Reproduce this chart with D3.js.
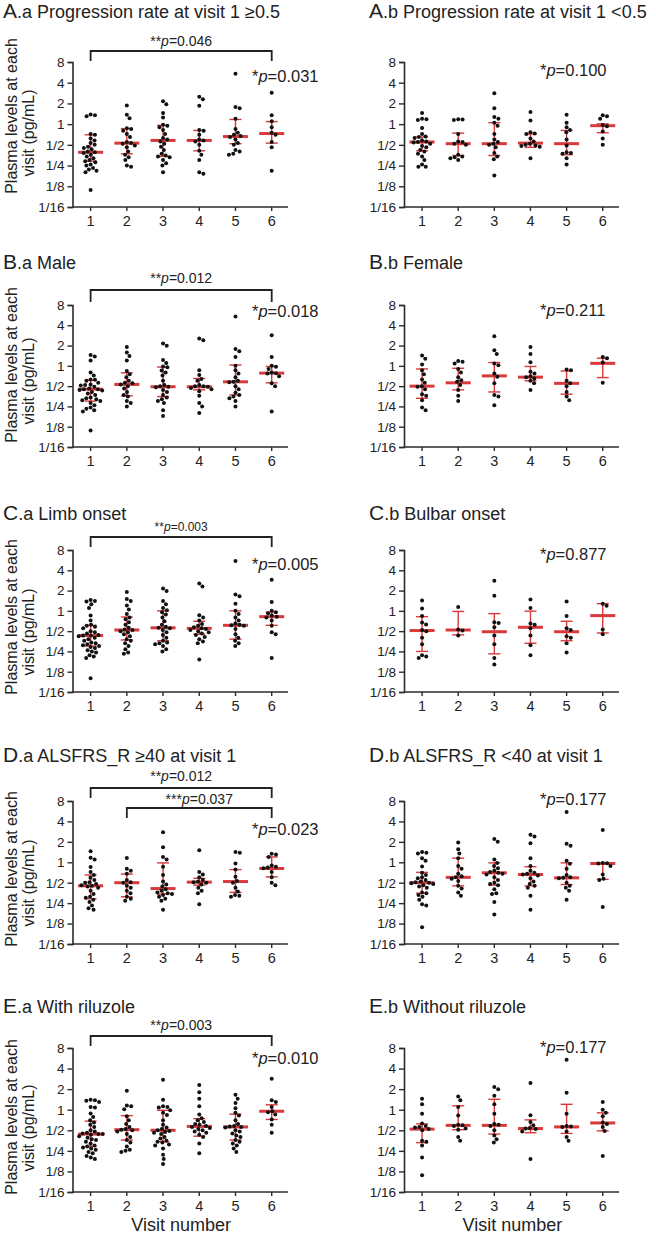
<!DOCTYPE html>
<html><head><meta charset="utf-8">
<script src="https://cdn.jsdelivr.net/npm/d3@7"></script>
<style>body{margin:0;background:#fff}svg{display:block;font-family:"Liberation Sans",Arial,sans-serif}</style>
</head><body><svg id="chart" width="656" height="1234"></svg>
<script>
// ---------------- DATA ----------------
const visits = [1, 2, 3, 4, 5, 6];
const yTickValues = [1/16, 1/8, 1/4, 1/2, 1, 2, 4, 8];
const yTickLabels = ["1/16", "1/8", "1/4", "1/2", "1", "2", "4", "8"];
const yAxisLabel = ["Plasma levels at each", "visit (pg/mL)"];
const xAxisLabel = "Visit number";

const panelLetters = ["A", "A", "B", "B", "C", "C", "D", "D", "E", "E"];
const panelTitles = [".a Progression rate at visit 1 \u22650.5", ".b Progression rate at visit 1 <0.5",
  ".a Male", ".b Female", ".a Limb onset", ".b Bulbar onset",
  ".a ALSFRS_R \u226540 at visit 1", ".b ALSFRS_R <40 at visit 1",
  ".a With riluzole", ".b Without riluzole"];
const trendP = ["0.031", "0.100", "0.018", "0.211", "0.005", "0.877", "0.023", "0.177", "0.010", "0.177"];

// pairwise comparisons (from visit, to visit, label)
const Aa_pairs = [{from: 1, to: 6, stars: "**", p: "0.046"}];
const Ba_pairs = [{from: 1, to: 6, stars: "**", p: "0.012"}];
const Ca_pairs = [{from: 1, to: 6, stars: "**", p: "0.003"}];
const Da_pairs = [{from: 1, to: 6, stars: "**", p: "0.012"}, {from: 2, to: 6, stars: "***", p: "0.037"}];
const Ea_pairs = [{from: 1, to: 6, stars: "**", p: "0.003"}];

// individual values (pg/mL) per visit
const Aa_values = [
  [1.38,1.35,1.3,0.72,0.7,0.62,0.58,0.53,0.5,0.47,0.45,0.43,0.40,0.39,0.38,0.36,0.34,0.32,0.30,0.29,0.28,0.26,0.25,0.23,0.22,0.21,0.20,0.11],
  [1.87,1.37,1.22,0.87,0.85,0.8,0.72,0.65,0.55,0.53,0.52,0.49,0.46,0.4,0.36,0.33,0.3,0.25,0.24],
  [2.15,1.95,1.45,1.25,0.98,0.95,0.9,0.82,0.72,0.63,0.6,0.56,0.52,0.47,0.42,0.37,0.35,0.34,0.33,0.3,0.27,0.25,0.2],
  [2.5,2.3,1.85,0.82,0.8,0.7,0.6,0.58,0.56,0.5,0.41,0.36,0.3,0.2,0.19],
  [5.4,1.78,1.7,1.2,0.85,0.75,0.7,0.67,0.65,0.6,0.53,0.5,0.42,0.4,0.37,0.36],
  [2.85,1.35,1.1,0.9,0.75,0.7,0.55,0.46,0.21]];
const Aa_median = [0.39, 0.53, 0.58, 0.58, 0.66, 0.73];
const Aa_q1 = [0.29, 0.37, 0.34, 0.41, 0.52, 0.53];
const Aa_q3 = [0.70, 0.86, 0.96, 0.81, 1.17, 1.09];

const Ab_values = [
  [1.45,1.2,1.18,1.15,0.88,0.72,0.66,0.65,0.63,0.58,0.56,0.55,0.54,0.52,0.48,0.46,0.42,0.4,0.37,0.34,0.3,0.26,0.24,0.24],
  [1.18,1.17,1.15,0.72,0.56,0.55,0.52,0.5,0.36,0.34,0.33,0.32,0.3],
  [2.8,1.7,1.27,1.2,1.05,0.95,0.72,0.6,0.55,0.52,0.5,0.46,0.38,0.34,0.31,0.18],
  [1.5,1.13,0.76,0.73,0.72,0.62,0.56,0.52,0.5,0.49,0.48,0.47,0.32],
  [1.37,1.05,0.9,0.82,0.76,0.6,0.49,0.39,0.38,0.37,0.32,0.26],
  [1.35,1.3,1.2,0.97,0.93,0.78,0.62,0.5]];
const Ab_median = [0.55, 0.52, 0.52, 0.53, 0.52, 0.95];
const Ab_q1 = [0.41, 0.35, 0.35, 0.46, 0.36, 0.75];
const Ab_q3 = [0.65, 0.74, 1.05, 0.72, 0.81, 1.01];

const Ba_values = [
  [1.45,1.38,1.2,0.8,0.72,0.63,0.62,0.6,0.56,0.53,0.52,0.51,0.49,0.46,0.45,0.45,0.44,0.43,0.41,0.39,0.37,0.34,0.33,0.32,0.31,0.3,0.28,0.26,0.24,0.23,0.22,0.21,0.11],
  [1.9,1.58,1.4,1.2,0.84,0.75,0.68,0.6,0.56,0.55,0.53,0.5,0.46,0.41,0.37,0.35,0.3,0.28,0.25],
  [2.15,1.98,1.22,1.1,0.98,0.95,0.85,0.8,0.72,0.6,0.52,0.5,0.49,0.48,0.44,0.41,0.37,0.34,0.32,0.3,0.28,0.22,0.18],
  [2.55,2.4,0.86,0.73,0.64,0.6,0.52,0.5,0.5,0.49,0.47,0.45,0.42,0.36,0.28,0.25,0.2],
  [5.4,1.78,1.65,1.35,1.0,0.86,0.77,0.68,0.6,0.58,0.57,0.5,0.45,0.4,0.37,0.35,0.33,0.3,0.25],
  [2.85,1.35,1.0,0.97,0.9,0.8,0.78,0.77,0.7,0.55,0.5,0.21]];
const Ba_median = [0.45, 0.53, 0.49, 0.49, 0.58, 0.78];
const Ba_q1 = [0.30, 0.36, 0.35, 0.44, 0.37, 0.56];
const Ba_q3 = [0.61, 0.79, 0.96, 0.65, 1.03, 0.98];

const Bb_values = [
  [1.42,1.28,1.05,0.86,0.75,0.63,0.56,0.5,0.49,0.45,0.38,0.36,0.31,0.24,0.22],
  [1.18,1.15,1.08,0.9,0.8,0.68,0.61,0.58,0.52,0.44,0.36,0.3],
  [2.76,1.7,1.5,1.08,1.02,0.77,0.69,0.55,0.37,0.35,0.26],
  [1.9,1.5,1.13,0.82,0.77,0.7,0.68,0.65,0.6,0.55,0.44],
  [0.88,0.86,0.6,0.55,0.5,0.41,0.35,0.31],
  [1.35,1.3,1.12,0.56]];
const Bb_median = [0.50, 0.56, 0.71, 0.68, 0.55, 1.09];
const Bb_q1 = [0.33, 0.44, 0.41, 0.60, 0.38, 0.67];
const Bb_q3 = [0.90, 0.92, 1.12, 0.98, 0.84, 1.30];

const Ca_values = [
  [1.45,1.4,1.38,1.25,1.1,0.85,0.72,0.62,0.6,0.58,0.55,0.5,0.48,0.46,0.44,0.43,0.43,0.42,0.4,0.38,0.36,0.34,0.33,0.32,0.31,0.3,0.29,0.28,0.26,0.25,0.24,0.22,0.21,0.2,0.1],
  [1.9,1.5,1.4,1.2,1.05,0.9,0.8,0.75,0.68,0.62,0.56,0.53,0.52,0.5,0.48,0.45,0.42,0.38,0.36,0.33,0.3,0.27,0.24,0.23],
  [2.15,1.97,1.4,1.25,1.1,1.02,0.95,0.88,0.8,0.7,0.62,0.58,0.56,0.55,0.52,0.48,0.44,0.4,0.36,0.34,0.33,0.32,0.3,0.27,0.25],
  [2.55,2.3,0.86,0.8,0.72,0.64,0.6,0.57,0.55,0.54,0.52,0.5,0.48,0.46,0.44,0.41,0.38,0.35,0.33,0.19],
  [5.5,1.75,1.65,1.27,1.0,0.9,0.8,0.72,0.65,0.62,0.61,0.6,0.54,0.45,0.4,0.36,0.33,0.3],
  [2.9,1.35,1.0,0.95,0.92,0.85,0.82,0.8,0.72,0.6,0.48,0.45,0.2]];
const Ca_median = [0.43, 0.52, 0.56, 0.55, 0.61, 0.82];
const Ca_q1 = [0.30, 0.37, 0.36, 0.45, 0.38, 0.61];
const Ca_q3 = [0.61, 0.81, 1.00, 0.70, 1.00, 0.96];

const Cb_values = [
  [1.43,1.08,0.84,0.67,0.63,0.52,0.5,0.4,0.32,0.22,0.21,0.2],
  [1.14,0.53,0.51,0.43],
  [2.8,1.67,0.68,0.66,0.57,0.43,0.32,0.2,0.16],
  [1.48,1.1,0.65,0.62,0.55,0.43,0.31,0.22],
  [1.38,0.84,0.55,0.52,0.42,0.4,0.33,0.24],
  [1.28,1.19,0.53,0.45]];
const Cb_median = [0.51, 0.52, 0.49, 0.57, 0.49, 0.85];
const Cb_q1 = [0.25, 0.44, 0.23, 0.33, 0.36, 0.47];
const Cb_q3 = [0.82, 0.98, 0.91, 0.99, 0.70, 1.28];

const Da_values = [
  [1.45,1.17,1.1,0.85,0.72,0.65,0.59,0.55,0.51,0.5,0.48,0.46,0.45,0.44,0.42,0.38,0.34,0.31,0.3,0.28,0.26,0.23,0.21,0.2],
  [1.16,0.8,0.75,0.68,0.55,0.51,0.5,0.45,0.42,0.38,0.35,0.31,0.29,0.27],
  [2.77,1.67,1.2,1.1,0.86,0.65,0.52,0.47,0.44,0.4,0.38,0.36,0.35,0.34,0.33,0.31,0.29,0.27,0.2],
  [1.5,0.72,0.66,0.6,0.55,0.52,0.51,0.5,0.47,0.42,0.38,0.35,0.24],
  [1.42,1.38,0.96,0.78,0.61,0.53,0.5,0.42,0.37,0.33,0.32,0.31],
  [1.34,1.3,1.2,0.9,0.86,0.84,0.82,0.72,0.6,0.5,0.46]];
const Da_median = [0.45, 0.50, 0.41, 0.51, 0.52, 0.81];
const Da_q1 = [0.29, 0.31, 0.34, 0.46, 0.36, 0.61];
const Da_q3 = [0.65, 0.67, 0.98, 0.58, 0.78, 1.20];

const Db_values = [
  [1.42,1.38,1.35,1.15,1.05,0.87,0.7,0.65,0.6,0.58,0.55,0.52,0.51,0.5,0.49,0.48,0.46,0.44,0.42,0.36,0.35,0.33,0.31,0.28,0.24,0.23,0.11],
  [1.95,1.56,1.35,1.15,0.88,0.8,0.68,0.62,0.6,0.57,0.53,0.45,0.41,0.36,0.32],
  [2.2,2.0,1.1,0.98,0.88,0.82,0.75,0.72,0.7,0.68,0.66,0.6,0.55,0.5,0.48,0.46,0.4,0.35,0.34,0.26,0.17],
  [2.55,2.4,1.9,1.15,0.88,0.75,0.7,0.68,0.66,0.64,0.58,0.52,0.48,0.45,0.42,0.32,0.2],
  [5.5,1.87,1.75,1.05,0.95,0.8,0.65,0.6,0.59,0.58,0.5,0.45,0.42,0.38,0.28],
  [3.0,0.98,0.97,0.96,0.88,0.66,0.57,0.55,0.22]];
const Db_median = [0.50, 0.60, 0.70, 0.66, 0.59, 0.96];
const Db_q1 = [0.35, 0.45, 0.46, 0.45, 0.47, 0.56];
const Db_q3 = [0.71, 1.15, 0.98, 0.86, 0.98, 0.96];

const Ea_values = [
  [1.4,1.37,1.35,1.3,1.1,1.08,0.88,0.78,0.7,0.65,0.6,0.56,0.5,0.48,0.46,0.45,0.44,0.44,0.43,0.41,0.39,0.37,0.36,0.34,0.32,0.3,0.29,0.28,0.27,0.26,0.24,0.23,0.21,0.2,0.19],
  [1.9,1.15,1.12,1.02,0.8,0.7,0.62,0.56,0.52,0.51,0.5,0.48,0.44,0.4,0.36,0.33,0.29,0.26,0.25,0.24],
  [2.75,1.4,1.12,1.1,1.08,0.98,0.9,0.84,0.7,0.6,0.55,0.52,0.5,0.49,0.47,0.46,0.44,0.4,0.38,0.35,0.34,0.33,0.31,0.3,0.27,0.22,0.19,0.16],
  [2.3,1.8,1.45,1.12,0.85,0.75,0.7,0.66,0.62,0.6,0.58,0.56,0.54,0.52,0.5,0.48,0.46,0.43,0.4,0.32,0.23],
  [1.65,1.45,1.25,1.05,0.9,0.82,0.7,0.62,0.58,0.57,0.56,0.55,0.5,0.48,0.45,0.42,0.4,0.36,0.34,0.32,0.3,0.27,0.24],
  [2.85,1.37,1.3,1.1,0.95,0.92,0.85,0.72,0.6,0.46]];
const Ea_median = [0.44, 0.51, 0.50, 0.57, 0.56, 0.95];
const Ea_q1 = [0.29, 0.36, 0.34, 0.41, 0.36, 0.72];
const Ea_q3 = [0.68, 0.82, 0.98, 0.74, 0.86, 1.18];

const Eb_values = [
  [1.45,1.2,0.87,0.63,0.58,0.56,0.55,0.52,0.5,0.35,0.34,0.3,0.2,0.11],
  [1.56,1.37,1.1,0.82,0.6,0.59,0.58,0.53,0.51,0.4,0.35],
  [2.15,2.0,1.6,1.2,0.87,0.62,0.6,0.58,0.5,0.42,0.37,0.33],
  [2.45,0.83,0.66,0.59,0.54,0.53,0.52,0.48,0.19],
  [5.4,1.77,0.87,0.58,0.57,0.56,0.48,0.4,0.35],
  [1.3,1.0,0.9,0.8,0.65,0.62,0.56,0.49,0.21]];
const Eb_median = [0.52, 0.59, 0.59, 0.53, 0.56, 0.64];
const Eb_q1 = [0.33, 0.51, 0.44, 0.46, 0.45, 0.49];
const Eb_q3 = [0.62, 1.14, 1.42, 0.71, 1.20, 0.90];

// ---------------- LAYOUT ----------------
const panels = [
  {values: Aa_values, median: Aa_median, q1: Aa_q1, q3: Aa_q3, pairs: Aa_pairs},
  {values: Ab_values, median: Ab_median, q1: Ab_q1, q3: Ab_q3, pairs: []},
  {values: Ba_values, median: Ba_median, q1: Ba_q1, q3: Ba_q3, pairs: Ba_pairs},
  {values: Bb_values, median: Bb_median, q1: Bb_q1, q3: Bb_q3, pairs: []},
  {values: Ca_values, median: Ca_median, q1: Ca_q1, q3: Ca_q3, pairs: Ca_pairs},
  {values: Cb_values, median: Cb_median, q1: Cb_q1, q3: Cb_q3, pairs: []},
  {values: Da_values, median: Da_median, q1: Da_q1, q3: Da_q3, pairs: Da_pairs},
  {values: Db_values, median: Db_median, q1: Db_q1, q3: Db_q3, pairs: []},
  {values: Ea_values, median: Ea_median, q1: Ea_q1, q3: Ea_q3, pairs: Ea_pairs},
  {values: Eb_values, median: Eb_median, q1: Eb_q1, q3: Eb_q3, pairs: []}
];
const rows = [
  {y8: 62, y16: 207, title: 18, lab1: 116, lab2: 133},
  {y8: 305, y16: 447, title: 269, lab1: 365, lab2: 381},
  {y8: 550, y16: 692, title: 520, lab1: 617, lab2: 632},
  {y8: 801, y16: 944, title: 762, lab1: 869, lab2: 883},
  {y8: 1048, y16: 1192, title: 1013, lab1: 1117, lab2: 1128}
];
const cols = [
  {axisX: 72.5, right: 288, titleX: 3, pX: 252},
  {axisX: 404, right: 619, titleX: 369, pX: 540}
];
const pBase = [82, 76, 317, 316, 570, 560, 835, 805, 1064, 1053];
const bracketLayout = {
  0: [{bar: 51, leg: 61, text: 46, fs: 14}],
  2: [{bar: 290, leg: 302, text: 283, fs: 14}],
  4: [{bar: 537, leg: 547, text: 531, fs: 12}],
  6: [{bar: 788, leg: 798, text: 781, fs: 14}, {bar: 808, leg: 818, text: 804, fs: 14}],
  8: [{bar: 1036, leg: 1046, text: 1030, fs: 14}]
};

const RED = "#d8393b";
const AX = "#2b2b2b";
const svg = d3.select("#chart");

function swarm(vals, y, D) {
  const pts = vals.map(v => ({v, y: y(v)})).sort((a, b) => a.y - b.y);
  const placed = [];
  for (const p of pts) {
    const near = placed.filter(q => Math.abs(q.y - p.y) < D);
    const cands = [0];
    for (const q of near) {
      const dx = Math.sqrt(D * D - (q.y - p.y) ** 2);
      cands.push(q.x + dx, q.x - dx);
    }
    cands.sort((a, b) => Math.abs(a) - Math.abs(b) || b - a);
    for (const c of cands) {
      if (near.every(q => (q.x - c) ** 2 + (q.y - p.y) ** 2 >= D * D - 0.01)) { p.x = c; break; }
    }
    placed.push(p);
  }
  return placed;
}

panels.forEach((P, i) => {
  const row = rows[Math.floor(i / 2)], col = cols[i % 2];
  const g = svg.append("g");
  const y = d3.scaleLog().base(2).domain([1/16, 8]).range([row.y16, row.y8]);
  const x = d3.scaleLinear().domain([0.5, 6.45]).range([col.axisX, col.right]);

  // title
  const t = g.append("text").attr("x", col.titleX).attr("y", row.title).attr("fill", "#222");
  t.append("tspan").attr("font-size", 21).text(panelLetters[i]);
  t.append("tspan").attr("font-size", 18).text(panelTitles[i]);

  // y axis
  const ya = g.append("g").attr("transform", `translate(${col.axisX},0)`)
    .call(d3.axisLeft(y).tickValues(yTickValues).tickFormat((d, k) => yTickLabels[k]).tickSizeOuter(0).tickSize(5).tickPadding(3));
  ya.select(".domain").attr("stroke", AX).attr("stroke-width", 1.6);
  ya.selectAll(".tick line").attr("stroke", AX).attr("stroke-width", 1.4);
  ya.selectAll(".tick text").attr("font-size", 13.5).attr("fill", "#222").attr("font-family", "Liberation Sans, Arial, sans-serif");

  // x axis
  g.append("line").attr("x1", col.axisX).attr("x2", col.right).attr("y1", row.y16).attr("y2", row.y16)
    .attr("stroke", AX).attr("stroke-width", 1.6);
  g.selectAll(".xt").data(visits).enter().append("line")
    .attr("x1", d => x(d)).attr("x2", d => x(d)).attr("y1", row.y16).attr("y2", row.y16 + 4)
    .attr("stroke", AX).attr("stroke-width", 1.4);
  g.selectAll(".xl").data(visits).enter().append("text")
    .attr("x", d => x(d)).attr("y", row.y16 + 19).attr("text-anchor", "middle")
    .attr("font-size", 14.5).attr("fill", "#222").text(d => d);

  // y label (left column only)
  if (i % 2 === 0) {
    g.append("text").attr("transform", `translate(17,${row.lab1}) rotate(-90)`).attr("text-anchor", "middle")
      .attr("font-size", 16).attr("fill", "#222").text(yAxisLabel[0]);
    g.append("text").attr("transform", `translate(34,${row.lab2}) rotate(-90)`).attr("text-anchor", "middle")
      .attr("font-size", 16).attr("fill", "#222").text(yAxisLabel[1]);
  }
  // x label (bottom row)
  if (Math.floor(i / 2) === 4) {
    g.append("text").attr("x", (x(1) + x(6)) / 2).attr("y", 1231).attr("text-anchor", "middle")
      .attr("font-size", 18).attr("fill", "#222").text(xAxisLabel);
  }

  // error bars
  visits.forEach((v, k) => {
    const cx = x(v);
    g.append("line").attr("x1", cx).attr("x2", cx).attr("y1", y(P.q1[k])).attr("y2", y(P.q3[k]))
      .attr("stroke", RED).attr("stroke-width", 1.4);
    [P.q1[k], P.q3[k]].forEach(q => g.append("line").attr("x1", cx - 6).attr("x2", cx + 6)
      .attr("y1", y(q)).attr("y2", y(q)).attr("stroke", RED).attr("stroke-width", 1.4));
    g.append("line").attr("x1", cx - 12.5).attr("x2", cx + 12.5).attr("y1", y(P.median[k])).attr("y2", y(P.median[k]))
      .attr("stroke", RED).attr("stroke-width", 3);
  });

  // dots
  visits.forEach((v, k) => {
    const pts = swarm(P.values[k], y, 4.4);
    g.selectAll(null).data(pts).enter().append("circle")
      .attr("cx", d => x(v) + d.x).attr("cy", d => d.y).attr("r", 2.0).attr("fill", "#111");
  });

  // trend p
  const pt = g.append("text").attr("x", col.pX).attr("y", pBase[i]).attr("font-size", 16.5).attr("fill", "#222");
  pt.append("tspan").text("*");
  pt.append("tspan").attr("font-style", "italic").text("p");
  pt.append("tspan").text("=" + trendP[i]);

  // brackets
  P.pairs.forEach((pr, j) => {
    const L = bracketLayout[i][j];
    const x1 = x(pr.from), x2 = x(pr.to);
    g.append("path").attr("d", `M${x1},${L.leg}V${L.bar}H${x2}V${L.leg}`)
      .attr("fill", "none").attr("stroke", "#222").attr("stroke-width", 1.8);
    const bt = g.append("text").attr("x", (x1 + x2) / 2).attr("y", L.text).attr("text-anchor", "middle")
      .attr("font-size", L.fs).attr("fill", "#222");
    bt.append("tspan").text(pr.stars);
    bt.append("tspan").attr("font-style", "italic").text("p");
    bt.append("tspan").text("=" + pr.p);
  });
});
</script>
</body></html>
